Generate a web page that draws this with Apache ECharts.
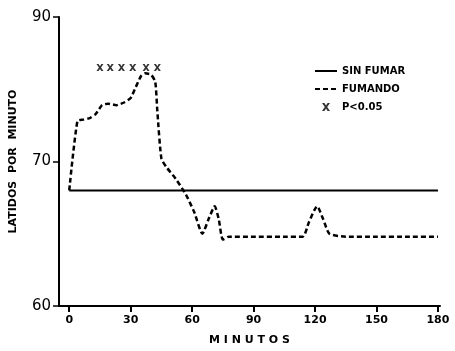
<!DOCTYPE html>
<html lang="es">
<head>
    <meta charset="UTF-8">
    <title>Latidos por minuto</title>
    <script src="https://cdn.jsdelivr.net/npm/echarts@6/dist/echarts.min.js"></script>
    <style>
        html, body {margin:0; padding:0; background:#fff}
    </style>
</head>
<body>
<div id="main" style="width: 455px; height:351px;"></div>
<script>
    // valores
    var xTicks = [0, 30, 60, 90, 120, 150, 180];
    var xTickLabels = ['0', '30', '60', '90', '120', '150', '180'];
    var yTicks = [60, 70, 80];
    var yTickLabels = ['60', '70', '90'];

    var sinFumar = [[0, 68.0], [180, 68.0]];
    var fumando = [
        [0, 68.0], [4, 72.8], [7, 72.9], [10, 73.0], [13, 73.3], [16, 73.9], [19, 74.0],
        [23, 73.9], [27, 74.1], [30, 74.4], [32, 75.0], [35, 75.9], [37, 76.1], [40, 76.0],
        [42, 75.5], [43, 73.5], [45, 70.2], [47.5, 69.6], [52, 68.8], [57, 67.7], [61, 66.5],
        [65, 65.0], [68, 66.0], [71, 66.9], [73, 66.0], [75, 64.6], [78, 64.8], [90, 64.8],
        [105, 64.8], [114, 64.8], [117, 65.8], [121, 66.9], [124, 66.0], [127, 65.0],
        [135, 64.8], [150, 64.8], [165, 64.8], [180, 64.8]
    ];
    var significativo = [[15, 76.5], [20, 76.5], [25.5, 76.5], [31, 76.5], [37.5, 76.5], [43, 76.5]];

    var xIcon = 'path://M0 0H3L5 3L7 0H10L6.5 5L10 10H7L5 7L3 10H0L3.5 5Z';
    var noMarker = {color: 'rgba(0,0,0,0)', borderWidth: 0};

    var chart = echarts.init(document.getElementById('main'));
    chart.setOption({
        animation: false,
        textStyle: {fontFamily: 'DejaVu Sans', color: '#000'},
        grid: {left: 57, right: 15, top: 17, bottom: 41},
        legend: {
            orient: 'vertical',
            left: 309,
            top: 61,
            itemWidth: 22,
            itemHeight: 8,
            itemGap: 8,
            textStyle: {fontSize: 10, fontWeight: 'bold', color: '#000'},
            data: [
                {name: 'SIN FUMAR', itemStyle: noMarker},
                {name: 'FUMANDO', itemStyle: noMarker},
                {name: 'P<0.05', icon: xIcon}
            ]
        },
        xAxis: {
            type: 'value',
            min: -5,
            max: 181,
            name: 'M I N U T O S',
            nameLocation: 'middle',
            nameGap: 29,
            nameTextStyle: {fontSize: 11, fontWeight: 'bold', color: '#000'},
            splitLine: {show: false},
            axisLine: {onZero: false, lineStyle: {color: '#000', width: 2}},
            axisTick: {show: true, customValues: xTicks, length: 6, lineStyle: {color: '#000', width: 2}},
            axisLabel: {
                customValues: xTicks,
                fontSize: 11, fontWeight: 'bold', color: '#000', margin: 9,
                formatter: function (v) { return xTickLabels[xTicks.indexOf(v)]; }
            }
        },
        yAxis: {
            type: 'value',
            min: 60,
            max: 80,
            name: 'LATIDOS  POR  MINUTO',
            nameLocation: 'middle',
            nameGap: 40,
            nameTextStyle: {fontSize: 11, fontWeight: 'bold', color: '#000'},
            splitLine: {show: false},
            axisLine: {show: true, onZero: false, lineStyle: {color: '#000', width: 2}},
            axisTick: {show: true, customValues: yTicks, length: 6, lineStyle: {color: '#000', width: 1.5}},
            axisLabel: {
                customValues: yTicks,
                fontSize: 15, color: '#000', margin: 8,
                formatter: function (v) { return yTickLabels[yTicks.indexOf(v)]; }
            }
        },
        series: [{
            name: 'SIN FUMAR',
            type: 'line',
            showSymbol: false,
            symbol: 'none',
            lineStyle: {color: '#000', width: 2},
            itemStyle: {color: '#000'},
            data: sinFumar
        }, {
            name: 'FUMANDO',
            type: 'line',
            showSymbol: false,
            symbol: 'none',
            smooth: 0.2,
            lineStyle: {color: '#000', width: 2.5, type: [5, 3]},
            itemStyle: {color: '#000'},
            data: fumando
        }, {
            name: 'P<0.05',
            type: 'scatter',
            symbol: xIcon,
            symbolSize: 7,
            itemStyle: {color: '#000'},
            data: significativo
        }]
    });
</script>
</body>
</html>
